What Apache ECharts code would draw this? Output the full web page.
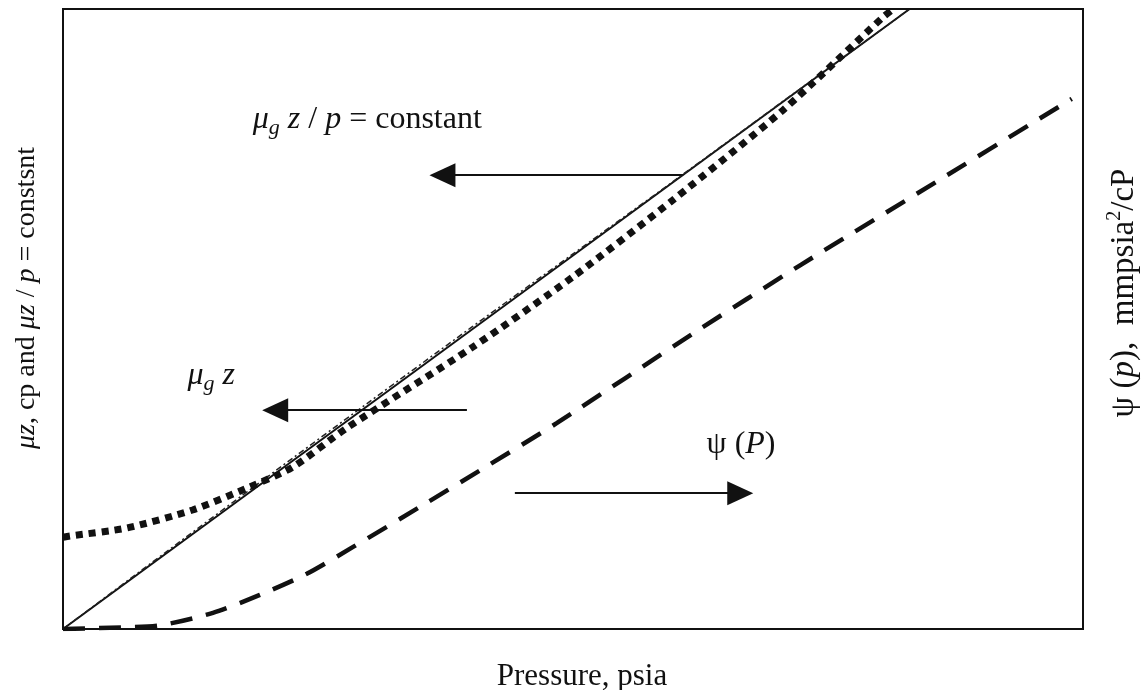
<!DOCTYPE html>
<html>
<head>
<meta charset="utf-8">
<script src="https://cdn.jsdelivr.net/npm/echarts@6/dist/echarts.min.js"></script>
<style>
  html, body { margin: 0; padding: 0; background: #fff; }
  #chart { width: 1142px; height: 690px; }
</style>
</head>
<body>
<div id="chart"></div>
<script>
// Pressure on a 0–100 relative scale; left axis (μz) and right axis (ψ) also relative 0–100.
const pressure = [0, 83.0];
const muZOverPConst = [0, 100];             // μg z / p = constant: straight line

const muZPressure = [0, 10, 20, 30, 40, 50, 60, 70, 83.0];
const muZValues   = [0, 12.3, 24.5, 36.6, 48.6, 60.5, 72.4, 84.4, 100];

const dottedPressure = [0, 0.7, 6.3, 12.7, 18.0, 22.5, 27.8, 40.2, 50.0, 59.8, 70.6, 80.4, 81.4];
const dottedValues   = [14.8, 15.0, 16.3, 19.2, 22.7, 26.1, 32.4, 45.5, 56.8, 69.2, 83.7, 98.7, 100];

const psiPressure = [0, 4.6, 9.5, 14.7, 19.3, 23.9, 28.4, 35.0, 40.9, 48.4, 61.8, 72.3, 83.7, 98.9];
const psiValues   = [0, 0.2, 0.6, 2.6, 5.5, 8.9, 13.2, 19.7, 25.6, 33.2, 47.7, 58.7, 70.2, 85.5];

const pairs = (xs, ys) => xs.map((x, i) => [x, ys[i]]);

const serif = '"Liberation Serif", "DejaVu Serif", serif';
function richSet(size) {
  return {
    i:   { fontFamily: serif, fontStyle: 'italic', fontSize: size, color: '#111' },
    r:   { fontFamily: serif, fontSize: size, color: '#111' },
    sub: { fontFamily: serif, fontStyle: 'italic', fontSize: Math.round(size * 0.68), color: '#111', padding: [Math.round(size * 0.5), 0, 0, 0] },
    sup: { fontFamily: serif, fontSize: Math.round(size * 0.62), color: '#111', padding: [0, 0, Math.round(size * 0.55), 0] }
  };
}

const chart = echarts.init(document.getElementById('chart'));

const arrowLine = { color: '#111', width: 2, type: 'solid' };

chart.setOption({
  animation: false,
  backgroundColor: '#fff',
  grid: {
    left: 63, right: 59, top: 9, bottom: 61,
    outerBoundsMode: 'none', containLabel: false,
    show: true, borderColor: '#111', borderWidth: 2
  },
  xAxis: {
    type: 'value', min: 0, max: 100,
    name: 'Pressure, psia',
    nameLocation: 'middle', nameGap: 32,
    nameTextStyle: { fontFamily: serif, fontSize: 31, color: '#111', padding: [0, 0, 0, 18] },
    axisLine: { show: true, lineStyle: { color: '#111', width: 2 } },
    axisTick: { show: false }, axisLabel: { show: false }, splitLine: { show: false }
  },
  yAxis: [
    {
      type: 'value', min: 0, max: 100, position: 'left',
      name: '{i|μz}{r|, cp and }{i|μz}{r| / }{i|p}{r| = constsnt}',
      nameLocation: 'middle', nameGap: 22, nameRotate: 90,
      nameTextStyle: { rich: richSet(28), padding: [0, 0, 0, 42] },
      axisLine: { show: true, lineStyle: { color: '#111', width: 2 } },
      axisTick: { show: false }, axisLabel: { show: false }, splitLine: { show: false }
    },
    {
      type: 'value', min: 0, max: 100, position: 'right',
      name: '{r|ψ (}{i|p}{r|),  mmpsia}{sup|2}{r|/cP}',
      nameLocation: 'middle', nameGap: 22, nameRotate: 90,
      nameTextStyle: { rich: richSet(33), padding: [0, 0, 0, 52] },
      axisLine: { show: true, lineStyle: { color: '#111', width: 2 } },
      axisTick: { show: false }, axisLabel: { show: false }, splitLine: { show: false }
    }
  ],
  series: [
    {
      name: 'μg z / p = constant',
      type: 'line', symbol: 'none',
      data: pairs(pressure, muZOverPConst),
      lineStyle: { color: '#111', width: 2 },
      markLine: {
        silent: true, symbol: ['none', 'triangle'], symbolSize: [24, 26],
        lineStyle: arrowLine, label: { show: false },
        data: [
          [{ coord: [60.8, 73.2] }, { coord: [37.2, 73.2] }],
          [{ coord: [39.6, 35.3] }, { coord: [20.8, 35.3] }],
          [{ coord: [44.3, 21.9] }, { coord: [66.4, 21.9] }]
        ]
      },
      markPoint: {
        silent: true, symbol: 'circle', symbolSize: 0,
        label: { show: true, position: 'right', distance: 0, rich: richSet(32) },
        data: [
          { coord: [18.6, 82.1], label: { formatter: '{i|μ}{sub|g}{i| z}{r| / }{i|p}{r| = constant}' } },
          { coord: [12.2, 40.8], label: { formatter: '{i|μ}{sub|g}{i| z}' } },
          { coord: [63.1, 29.7], label: { formatter: '{r|ψ (}{i|P}{r|)}' } }
        ]
      }
    },
    {
      name: 'μg z',
      type: 'line', symbol: 'none', smooth: 0.3,
      data: pairs(muZPressure, muZValues),
      lineStyle: { color: '#222', width: 1.5, type: [6, 3, 2, 3] }
    },
    {
      name: 'μz / p',
      type: 'line', symbol: 'none', smooth: 0.25,
      data: pairs(dottedPressure, dottedValues),
      lineStyle: { color: '#111', width: 7, type: [7, 6], cap: 'butt' }
    },
    {
      name: 'ψ (P)',
      type: 'line', symbol: 'none', smooth: 0.25, yAxisIndex: 1,
      data: pairs(psiPressure, psiValues),
      lineStyle: { color: '#111', width: 4.5, type: [22, 14], cap: 'butt' }
    }
  ]
});
</script>
</body>
</html>
